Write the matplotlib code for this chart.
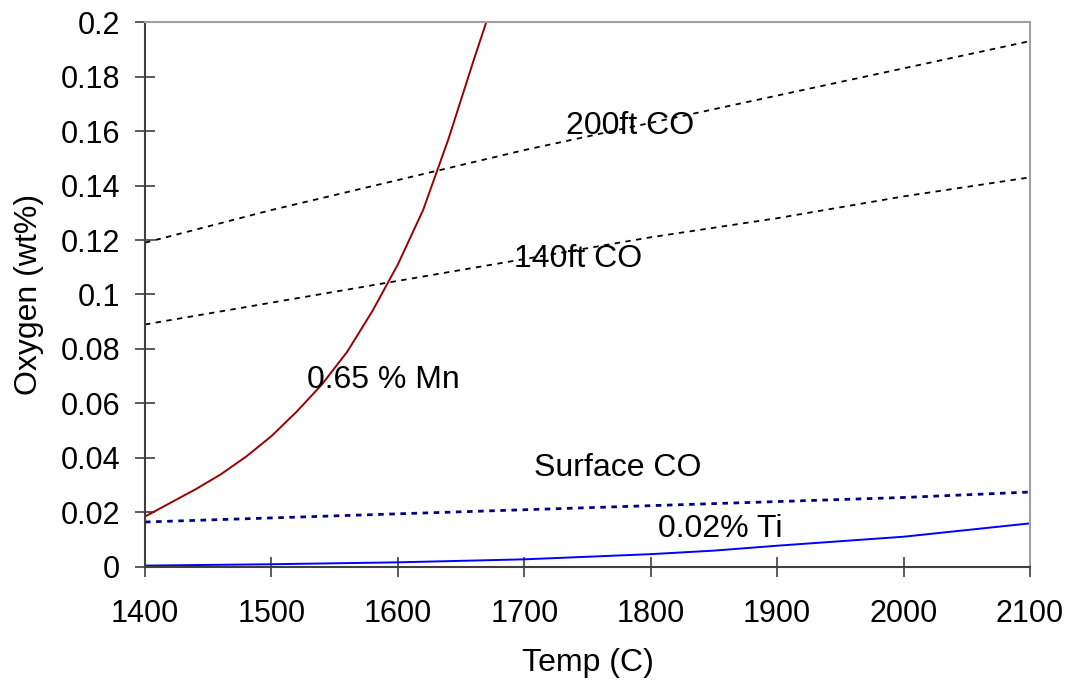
import matplotlib
matplotlib.use('Agg')
import matplotlib.pyplot as plt

plt.rcParams['font.family'] = ['Liberation Sans', 'DejaVu Sans']

temp = [1400, 1500, 1600, 1700, 1800, 1900, 2000, 2100]
co_200ft = [0.119, 0.131, 0.142, 0.153, 0.163, 0.173, 0.183, 0.193]
co_140ft = [0.089, 0.097, 0.105, 0.113, 0.121, 0.128, 0.136, 0.143]
co_surface = [0.0165, 0.018, 0.0195, 0.021, 0.0225, 0.024, 0.0255, 0.0275]

mn_temp = [1400, 1420, 1440, 1460, 1480, 1500, 1520, 1540, 1560, 1580, 1600,
           1620, 1640, 1660, 1675]
mn_065 = [0.0185, 0.0235, 0.0285, 0.034, 0.0405, 0.048, 0.057, 0.067, 0.079,
          0.094, 0.111, 0.131, 0.157, 0.186, 0.207]

ti_temp = [1400, 1500, 1600, 1700, 1800, 1850, 1900, 2000, 2100]
ti_002 = [0.0005, 0.001, 0.0017, 0.0028, 0.0047, 0.006, 0.0078, 0.0111, 0.0160]

fig = plt.figure(figsize=(10.73, 6.84), dpi=100)
ax = fig.add_axes([0.1351, 0.1711, 0.8248, 0.7967])

ax.plot(temp, co_200ft, color='black', lw=1.3, linestyle=(0, (3, 3)))
ax.plot(temp, co_140ft, color='black', lw=1.3, linestyle=(0, (3, 3)))
ax.plot(temp, co_surface, color='#000080', lw=2, linestyle=(0, (2, 2)))
ax.plot(mn_temp, mn_065, color='#990000', lw=1.4)
ax.plot(ti_temp, ti_002, color='#0000ff', lw=1.4)

ax.set_xlim(1400, 2100)
ax.set_ylim(0, 0.2)
ax.set_xticks(range(1400, 2101, 100))
ax.set_yticks([0, 0.02, 0.04, 0.06, 0.08, 0.1, 0.12, 0.14, 0.16, 0.18, 0.2])
ax.set_yticklabels(['0', '0.02', '0.04', '0.06', '0.08', '0.1', '0.12', '0.14', '0.16', '0.18', '0.2'])
ax.tick_params(direction='inout', length=14, width=1.2, color='#404040', labelsize=22)
ax.tick_params(axis='x', pad=16)
ax.tick_params(axis='y', pad=11)

for s in ['top', 'right']:
    ax.spines[s].set_color('#a0a0a0')
    ax.spines[s].set_linewidth(1.5)
for s in ['left', 'bottom']:
    ax.spines[s].set_color('#404040')
    ax.spines[s].set_linewidth(1.5)

ax.set_xlabel('Temp (C)', fontsize=23, labelpad=14)
ax.set_ylabel('Oxygen (wt%)', fontsize=23, labelpad=12)

ax.text(1733, 0.162, '200ft CO', fontsize=23, va='center')
ax.text(1692, 0.1132, '140ft CO', fontsize=23, va='center')
ax.text(1528, 0.0688, '0.65 % Mn', fontsize=23, va='center')
ax.text(1708, 0.0362, 'Surface CO', fontsize=23, va='center')
ax.text(1806, 0.014, '0.02% Ti', fontsize=23, va='center')

fig.savefig('out.png', dpi=100)
